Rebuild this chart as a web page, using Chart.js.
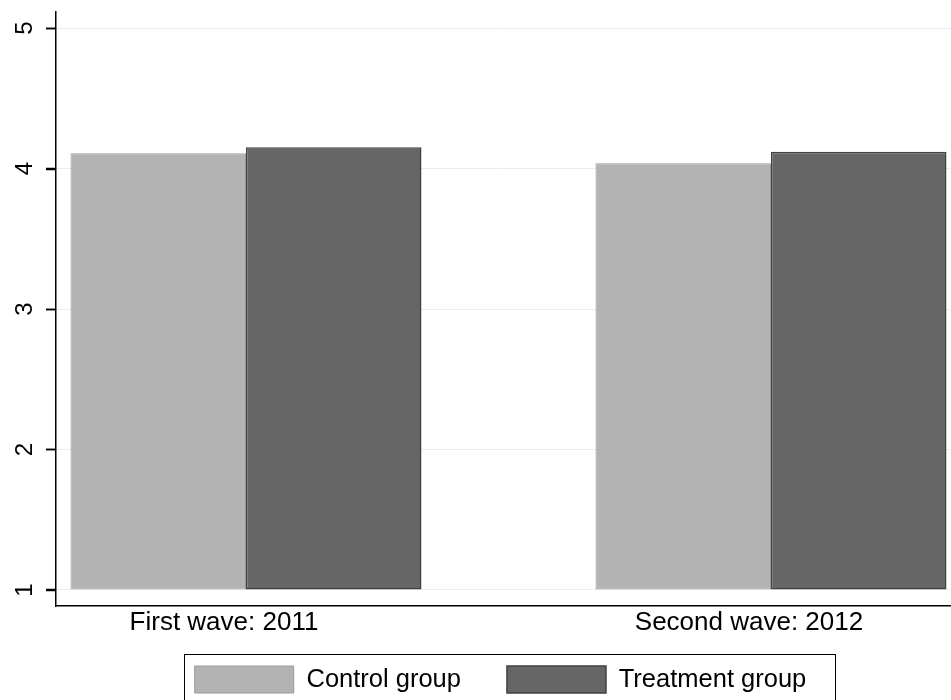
<!DOCTYPE html>
<html>
<head>
<meta charset="utf-8">
<script src="https://cdn.jsdelivr.net/npm/chart.js@4/dist/chart.umd.min.js"></script>
<style>
    html, body { margin: 0; padding: 0; background: #fff; }
    #waveChart { display: block; }
</style>
</head>
<body>
<canvas id="waveChart" width="951" height="700"></canvas>
<script>
// values
const waves = ['First wave: 2011', 'Second wave: 2012'];
const wavePos = [1, 2];
const controlValues = [4.108, 4.037];
const treatmentValues = [4.151, 4.120];
const yTicks = [1, 2, 3, 4, 5];
const barBase = 1;

const fontName = '"Liberation Sans", Arial, Helvetica, sans-serif';

// nudge the legend under the plot region and let the x labels
// hang below their (thin) axis box
const layoutTweaks = {
    id: 'layoutTweaks',
    afterLayout(chart) {
        const lg = chart.legend;
        lg.left += 25;
        lg.right += 25;
        chart.scales.x.bottom = chart.height;
    }
};

// y tick marks and the box around the legend, drawn last
const finishing = {
    id: 'finishing',
    afterDraw(chart) {
        const ctx = chart.ctx;
        // drop any clip region left behind by earlier drawing
        for (let i = 0; i < 4; i++) ctx.restore();
        ctx.save();
        ctx.setTransform(1, 0, 0, 1, 0, 0);
        ctx.strokeStyle = '#000';

        const y = chart.scales.y;
        const axisX = chart.chartArea.left;
        ctx.lineWidth = 1.5;
        ctx.beginPath();
        yTicks.forEach(v => {
            const py = Math.round(y.getPixelForValue(v)) + 0.5;
            ctx.moveTo(axisX - 10, py);
            ctx.lineTo(axisX, py);
        });
        ctx.stroke();

        const boxes = chart.legend.legendHitBoxes;
        if (boxes && boxes.length) {
            const first = boxes[0];
            const last = boxes[boxes.length - 1];
            const left = Math.round(first.left - 11) + 0.5;
            const right = Math.round(last.left + last.width + 29) + 0.5;
            const top = Math.round(first.top - 12) + 0.5;
            ctx.lineWidth = 1;
            ctx.strokeRect(left, top, right - left, 702 - top);
        }
        ctx.restore();
    }
};

function toPoints(values) {
    return values.map((v, i) => ({ x: wavePos[i], y: v }));
}

const ctx = document.getElementById('waveChart').getContext('2d');
new Chart(ctx, {
    type: 'bar',
    data: {
        datasets: [{
            label: 'Control group',
            data: toPoints(controlValues),
            base: barBase,
            backgroundColor: '#b3b3b3',
            borderColor: '#9a9a9a',
            borderWidth: 1,
            borderSkipped: false
        }, {
            label: 'Treatment group',
            data: toPoints(treatmentValues),
            base: barBase,
            backgroundColor: '#666666',
            borderColor: '#404040',
            borderWidth: 1.5,
            borderSkipped: false
        }]
    },
    options: {
        responsive: false,
        maintainAspectRatio: false,
        animation: false,
        devicePixelRatio: 1,
        layout: { padding: { left: 0, right: 0, top: 12, bottom: -3 } },
        datasets: {
            bar: { categoryPercentage: 0.6686, barPercentage: 1 }
        },
        scales: {
            x: {
                type: 'linear',
                offset: false,
                min: 0.6381,
                max: 2.3429,
                grid: { display: false },
                border: { display: true, color: '#000', width: 1.5 },
                afterBuildTicks: function(scale) {
                    scale.ticks = wavePos.map(v => ({ value: v }));
                },
                afterFit: function(scale) {
                    scale.height = 14;
                    scale.paddingLeft = 0;
                    scale.paddingRight = 0;
                },
                ticks: {
                    autoSkip: false,
                    padding: -7,
                    labelOffset: -22,
                    maxRotation: 0,
                    minRotation: 0,
                    color: '#000',
                    font: { family: fontName, size: 26 },
                    callback: function(value) {
                        const i = wavePos.indexOf(value);
                        return i >= 0 ? waves[i] : '';
                    }
                }
            },
            y: {
                min: 0.886,
                max: 5.114,
                grid: {
                    color: '#e6eff1',
                    lineWidth: 1,
                    tickColor: '#000000',
                    tickLength: 10,
                    tickWidth: 1.5
                },
                border: { display: true, color: '#000', width: 1.5 },
                afterBuildTicks: function(scale) {
                    scale.ticks = yTicks.map(v => ({ value: v }));
                },
                afterFit: function(scale) {
                    scale.width = 56;
                    scale.paddingTop = 0;
                    scale.paddingBottom = 0;
                },
                ticks: {
                    autoSkip: false,
                    padding: 14,
                    crossAlign: 'center',
                    minRotation: 90,
                    maxRotation: 90,
                    color: '#000',
                    font: { family: fontName, size: 24 }
                }
            }
        },
        plugins: {
            legend: {
                position: 'bottom',
                labels: {
                    boxWidth: 99,
                    boxHeight: 27,
                    padding: 46,
                    color: '#000',
                    font: { family: fontName, size: 25.5 }
                }
            },
            tooltip: { enabled: false }
        }
    },
    plugins: [layoutTweaks, finishing]
});
</script>
</body>
</html>
